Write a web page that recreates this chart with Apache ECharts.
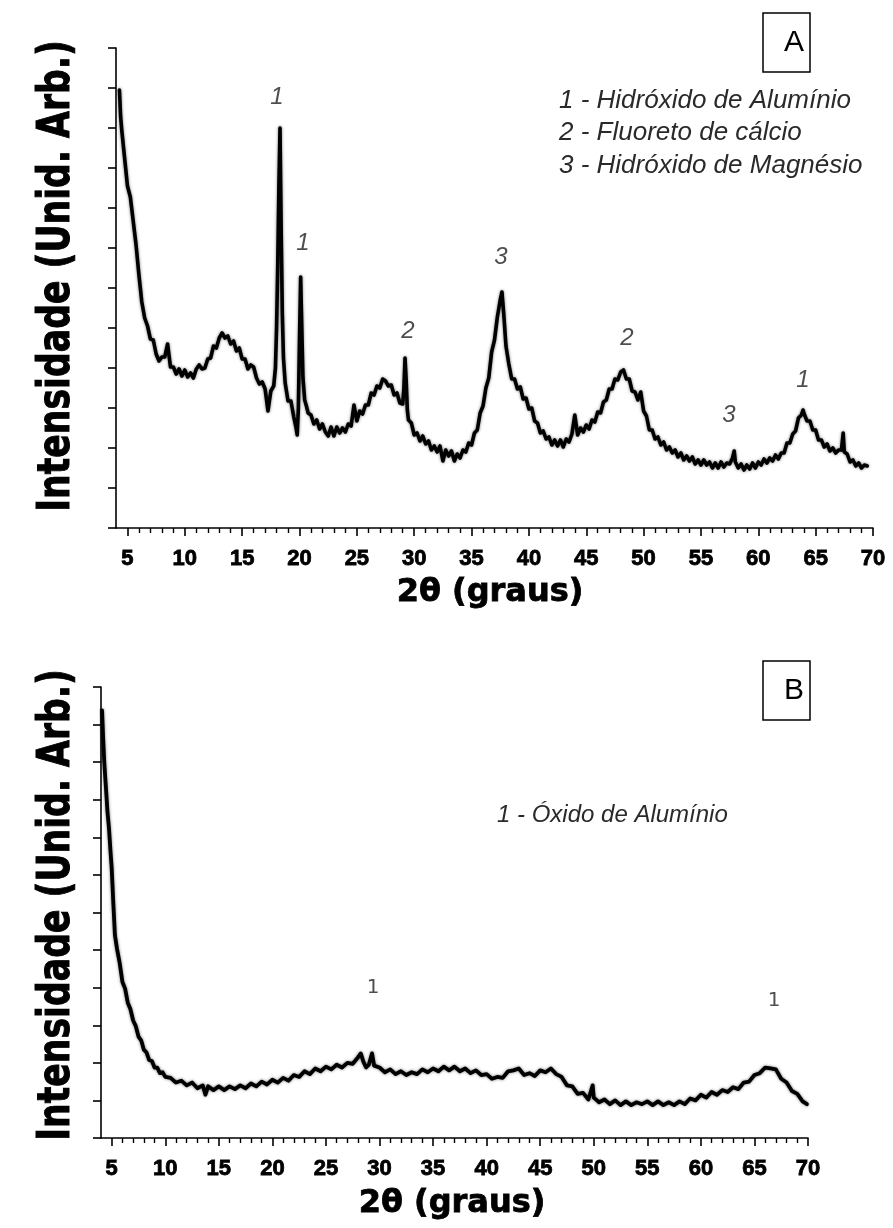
<!DOCTYPE html>
<html>
<head>
<meta charset="utf-8">
<script src="https://cdn.jsdelivr.net/npm/echarts@6/dist/echarts.min.js"></script>
<style>
  html, body { margin: 0; padding: 0; background: #fff; }
  #chart { width: 893px; height: 1228px; }
</style>
</head>
<body>
<div id="chart"></div>
<script>
// ---- Diffractogram A: [2θ, counts] ----
const scanA = [
  [4.3,438],[4.4,412],[4.5,398],[4.75,370],[5.0,342],[5.25,331],[5.5,307],[5.75,283],[6.0,253],[6.25,226],
  [6.5,210],[6.75,202],[7.0,189],[7.25,188],[7.5,174],[7.75,167],[8.0,171],[8.25,171],[8.5,184],[8.75,161],
  [9.0,161],[9.25,154],[9.5,159],[9.75,152],[10.0,158],[10.25,151],[10.5,155],[10.75,150],[11.0,159],[11.25,163],
  [11.5,159],[11.75,160],[12.0,169],[12.25,170],[12.5,182],[12.75,180],[13.0,190],[13.25,195],[13.5,190],[13.75,192],
  [14.0,184],[14.25,187],[14.5,177],[14.75,180],[15.0,169],[15.25,169],[15.5,159],[15.75,163],[16.0,161],[16.25,150],
  [16.5,144],[16.75,146],[17.0,139],[17.25,117],[17.5,137],[17.75,142],[17.9,160],[18.0,200],[18.1,262],[18.2,340],
  [18.3,400],[18.4,300],[18.5,215],[18.6,170],[18.75,145],[19.0,127],[19.25,127],[19.5,111],[19.7,100],[19.8,93],
  [19.9,120],[20.0,190],[20.1,251],[20.2,200],[20.3,150],[20.45,128],[20.6,122],[20.75,115],[21.0,113],[21.25,104],
  [21.5,108],[21.75,99],[22.0,104],[22.25,96],[22.5,92],[22.75,101],[23.0,92],[23.25,101],[23.5,95],[23.75,100],
  [24.0,96],[24.25,104],[24.5,102],[24.75,123],[25.0,107],[25.25,117],[25.5,114],[25.75,123],[26.0,123],[26.25,135],
  [26.5,133],[26.75,142],[27.0,140],[27.25,149],[27.5,147],[27.75,142],[28.0,143],[28.25,133],[28.5,135],[28.75,125],
  [29.0,124],[29.1,140],[29.2,170],[29.3,148],[29.4,118],[29.5,108],[29.75,105],[30.0,93],[30.25,95],[30.5,87],
  [30.75,92],[31.0,84],[31.25,87],[31.5,78],[31.75,82],[32.0,76],[32.25,82],[32.5,67],[32.75,78],[33.0,72],
  [33.25,77],[33.5,67],[33.75,74],[34.0,70],[34.25,78],[34.5,76],[34.75,85],[35.0,83],[35.25,95],[35.5,98],
  [35.75,115],[36.0,122],[36.25,140],[36.5,150],[36.75,176],[37.0,188],[37.25,211],[37.5,228],[37.65,236],[37.8,215],
  [38.0,182],[38.25,164],[38.5,149],[38.75,149],[39.0,139],[39.25,141],[39.5,129],[39.75,130],[40.0,119],[40.25,120],
  [40.5,107],[40.75,105],[41.0,95],[41.25,97],[41.5,89],[41.75,91],[42.0,83],[42.25,88],[42.5,82],[42.75,88],
  [43.0,81],[43.25,89],[43.5,86],[43.75,94],[44.0,113],[44.25,93],[44.5,100],[44.75,96],[45.0,103],[45.25,99],
  [45.5,108],[45.75,106],[46.0,116],[46.25,115],[46.5,126],[46.75,128],[47.0,139],[47.25,139],[47.5,149],[47.75,148],
  [48.0,156],[48.25,158],[48.5,149],[48.75,149],[49.0,137],[49.25,136],[49.5,128],[49.75,136],[50.0,117],[50.25,112],
  [50.5,98],[50.75,98],[51.0,89],[51.25,91],[51.5,83],[51.75,86],[52.0,78],[52.25,81],[52.5,75],[52.75,78],
  [53.0,71],[53.25,75],[53.5,68],[53.75,72],[54.0,67],[54.25,71],[54.5,64],[54.75,68],[55.0,63],[55.25,68],
  [55.5,63],[55.75,66],[56.0,60],[56.25,65],[56.5,60],[56.75,66],[57.0,61],[57.25,65],[57.5,64],[57.75,70],
  [57.9,77],[58.0,66],[58.25,60],[58.5,64],[58.75,58],[59.0,63],[59.25,59],[59.5,65],[59.75,60],[60.0,66],
  [60.25,63],[60.5,69],[60.75,65],[61.0,70],[61.25,67],[61.5,73],[61.75,69],[62.0,75],[62.25,75],[62.5,85],
  [62.75,85],[63.0,94],[63.25,97],[63.5,110],[63.75,113],[63.9,118],[64.0,114],[64.25,107],[64.5,107],[64.75,98],
  [65.0,98],[65.25,88],[65.5,88],[65.75,81],[66.0,84],[66.25,77],[66.5,80],[66.75,75],[67.0,78],[67.25,78],
  [67.4,95],[67.5,76],[67.75,74],[68.0,66],[68.25,68],[68.5,62],[68.75,65],[69.0,60],[69.25,63],[69.5,62]
];

// ---- Diffractogram B: [2θ, counts] ----
const scanB = [
  [4.1,455],[4.2,426],[4.3,401],[4.4,383],[4.5,366],[4.6,348],[4.75,329],[4.9,303],[5.0,287],[5.15,250],
  [5.3,216],[5.5,201],[5.75,186],[6.0,166],[6.25,159],[6.5,144],[6.75,137],[7.0,125],[7.25,119],[7.5,108],
  [7.75,104],[8.0,94],[8.25,91],[8.5,83],[8.75,82],[9.0,75],[9.25,75],[9.5,69],[9.75,70],[10.0,65],
  [10.5,64],[11.0,59],[11.5,61],[12.0,56],[12.5,59],[13.0,53],[13.5,56],[13.75,46],[14.0,55],[14.5,51],
  [15.0,55],[15.5,51],[16.0,55],[16.5,52],[17.0,56],[17.5,53],[18.0,58],[18.5,55],[19.0,60],[19.5,57],
  [20.0,62],[20.5,59],[21.0,64],[21.5,61],[22.0,67],[22.5,65],[23.0,71],[23.5,68],[24.0,74],[24.5,71],
  [25.0,76],[25.5,73],[26.0,78],[26.5,75],[27.0,80],[27.5,79],[28.0,86],[28.25,90],[28.5,81],[28.75,75],
  [29.0,78],[29.3,90],[29.5,77],[30.0,75],[30.5,70],[31.0,73],[31.5,68],[32.0,71],[32.5,67],[33.0,70],
  [33.5,68],[34.0,73],[34.5,70],[35.0,74],[35.5,71],[36.0,76],[36.5,72],[37.0,76],[37.5,71],[38.0,74],
  [38.5,69],[39.0,72],[39.5,67],[40.0,68],[40.5,63],[41.0,65],[41.5,64],[42.0,71],[42.5,72],[43.0,74],
  [43.5,67],[44.0,69],[44.5,66],[45.0,72],[45.5,70],[46.0,74],[46.5,68],[47.0,65],[47.5,56],[48.0,55],
  [48.5,47],[49.0,48],[49.5,41],[49.9,56],[50.0,43],[50.5,38],[51.0,41],[51.5,36],[52.0,40],[52.5,35],
  [53.0,39],[53.5,35],[54.0,38],[54.5,36],[55.0,39],[55.5,35],[56.0,39],[56.5,35],[57.0,38],[57.5,35],
  [58.0,39],[58.5,36],[59.0,42],[59.5,40],[60.0,46],[60.5,43],[61.0,49],[61.5,46],[62.0,51],[62.5,49],
  [63.0,54],[63.5,52],[64.0,59],[64.5,60],[65.0,67],[65.5,69],[66.0,75],[66.5,74],[67.0,73],[67.5,63],
  [68.0,59],[68.5,50],[69.0,47],[69.5,39],[69.9,36]
];

// ---- Axis ticks and labels (2θ in degrees) ----
const majorTicks = [5,10,15,20,25,30,35,40,45,50,55,60,65,70];
const minorTicks = [6,7,8,9,11,12,13,14,16,17,18,19,21,22,23,24,26,27,28,29,31,32,33,34,36,37,38,39,
                    41,42,43,44,46,47,48,49,51,52,53,54,56,57,58,59,61,62,63,64,66,67,68,69];

// ---- Phase markers: tag text and [2θ, counts] anchor ----
const peakTagsA = ['1','1','2','3','2','3','1'];
const peakPosA  = [[18.04,431],[20.3,285],[29.46,197],[37.57,271],[48.55,190],[57.44,113],[63.9,148]];
const peakTagsB = ['1','1'];
const peakPosB  = [[29.4,160],[66.84,146]];

// ---- Phase legend texts ----
const phasesA = ['1 - Hidróxido de Alumínio', '2 - Fluoreto de cálcio', '3 - Hidróxido de Magnésio'];
const phasesB = ['1 - Óxido de Alumínio'];

const axisTitleY = 'Intensidade (Unid. Arb.)';
const axisTitleX = '2θ (graus)';

const chart = echarts.init(document.getElementById('chart'), null, { renderer: 'canvas' });

const tickLabelStyle = {
  fontFamily: 'Liberation Sans', fontWeight: 'bold', fontSize: 22, color: '#000',
  textBorderColor: '#000', textBorderWidth: 0.8, margin: 20
};
const axisLineStyle = { color: '#000', width: 1.6 };

function xAxesFor(gridIndex) {
  return [
    {
      gridIndex, type: 'value', min: 4, max: 70, position: 'bottom',
      axisLine: { show: true, lineStyle: axisLineStyle },
      axisTick: { show: true, customValues: majorTicks, length: 8, lineStyle: { color: '#000', width: 1.6 } },
      axisLabel: Object.assign({ customValues: majorTicks }, tickLabelStyle),
      splitLine: { show: false }
    },
    {
      gridIndex, type: 'value', min: 4, max: 70, position: 'bottom',
      axisLine: { show: false },
      axisTick: { show: true, customValues: minorTicks, length: 5, lineStyle: { color: '#000', width: 1.4 } },
      axisLabel: { show: false },
      splitLine: { show: false }
    }
  ];
}

function yAxisFor(gridIndex) {
  return {
    gridIndex, type: 'value', min: 0, max: 480, interval: 40,
    axisLine: { show: true, lineStyle: axisLineStyle },
    axisTick: { show: true, length: 8, lineStyle: { color: '#000', width: 1.6 } },
    axisLabel: { show: false },
    splitLine: { show: false }
  };
}

function tagSeries(xi, yi, tags, pos, labelStyle) {
  return {
    type: 'scatter', xAxisIndex: xi, yAxisIndex: yi, symbolSize: 1,
    itemStyle: { color: 'rgba(0,0,0,0)' }, silent: true,
    data: tags.map((t, i) => ({ name: t, value: pos[i] })),
    label: Object.assign({ show: true, position: 'inside', formatter: '{b}' }, labelStyle)
  };
}

// the noisy scans are drawn as a heavy trace with a soft dark edge
function scanSeries(xi, yi, data, width) {
  return {
    type: 'line', xAxisIndex: xi, yAxisIndex: yi, data,
    showSymbol: false, smooth: false, sampling: null,
    lineStyle: { color: '#000', width, join: 'round', cap: 'round',
                 shadowColor: 'rgba(0,0,0,0.55)', shadowBlur: 3 }
  };
}

const titleFontY = 'bold 45px "DejaVu Sans"';
const titleFontX = 'bold 32px "DejaVu Sans"';
const legendFont = 'italic 26px "Liberation Sans"';

const option = {
  animation: false,
  backgroundColor: '#fff',
  grid: [
    { left: 116, top: 48, width: 757, height: 480, containLabel: false },
    { left: 101, top: 687, width: 707, height: 451, containLabel: false }
  ],
  xAxis: xAxesFor(0).concat(xAxesFor(1)),
  yAxis: [yAxisFor(0), yAxisFor(1)],
  series: [
    scanSeries(0, 0, scanA, 3.6),
    scanSeries(2, 1, scanB, 3.8),
    tagSeries(0, 0, peakTagsA, peakPosA,
      { fontFamily: 'Liberation Sans', fontStyle: 'italic', fontSize: 24, color: '#222' }),
    tagSeries(2, 1, peakTagsB, peakPosB,
      { fontFamily: 'DejaVu Sans', fontSize: 20, color: '#222' })
  ],
  graphic: [
    // y-axis titles (rotated, condensed along the text direction)
    { type: 'text', x: 57, y: 276, rotation: Math.PI / 2, scaleX: 0.77, scaleY: 1,
      style: { text: axisTitleY, font: titleFontY, fill: '#000', stroke: '#000', lineWidth: 1,
               textAlign: 'center', textVerticalAlign: 'middle' } },
    { type: 'text', x: 57, y: 905, rotation: Math.PI / 2, scaleX: 0.77, scaleY: 1,
      style: { text: axisTitleY, font: titleFontY, fill: '#000', stroke: '#000', lineWidth: 1,
               textAlign: 'center', textVerticalAlign: 'middle' } },
    // x-axis titles
    { type: 'text', x: 490, y: 593,
      style: { text: axisTitleX, font: titleFontX, fill: '#000', stroke: '#000', lineWidth: 0.8,
               textAlign: 'center', textVerticalAlign: 'middle' } },
    { type: 'text', x: 452, y: 1204,
      style: { text: axisTitleX, font: titleFontX, fill: '#000', stroke: '#000', lineWidth: 0.8,
               textAlign: 'center', textVerticalAlign: 'middle' } },
    // panel badges
    { type: 'rect', shape: { x: 763, y: 13, width: 47, height: 59 },
      style: { fill: 'none', stroke: '#000', lineWidth: 1.5 } },
    { type: 'text', x: 794, y: 43,
      style: { text: 'A', font: '30px "Liberation Sans"', fill: '#000', textAlign: 'center', textVerticalAlign: 'middle' } },
    { type: 'rect', shape: { x: 763, y: 661, width: 47, height: 59 },
      style: { fill: 'none', stroke: '#000', lineWidth: 1.5 } },
    { type: 'text', x: 794, y: 691,
      style: { text: 'B', font: '30px "Liberation Sans"', fill: '#000', textAlign: 'center', textVerticalAlign: 'middle' } },
    // phase legends
    { type: 'text', x: 559, y: 101,
      style: { text: phasesA[0], font: legendFont, fill: '#2a2a2a', textAlign: 'left', textVerticalAlign: 'middle' } },
    { type: 'text', x: 559, y: 133,
      style: { text: phasesA[1], font: legendFont, fill: '#2a2a2a', textAlign: 'left', textVerticalAlign: 'middle' } },
    { type: 'text', x: 559, y: 166,
      style: { text: phasesA[2], font: legendFont, fill: '#2a2a2a', textAlign: 'left', textVerticalAlign: 'middle' } },
    { type: 'text', x: 497, y: 815,
      style: { text: phasesB[0], font: 'italic 24px "Liberation Sans"', fill: '#2a2a2a', textAlign: 'left', textVerticalAlign: 'middle' } }
  ]
};

chart.setOption(option);
</script>
</body>
</html>
